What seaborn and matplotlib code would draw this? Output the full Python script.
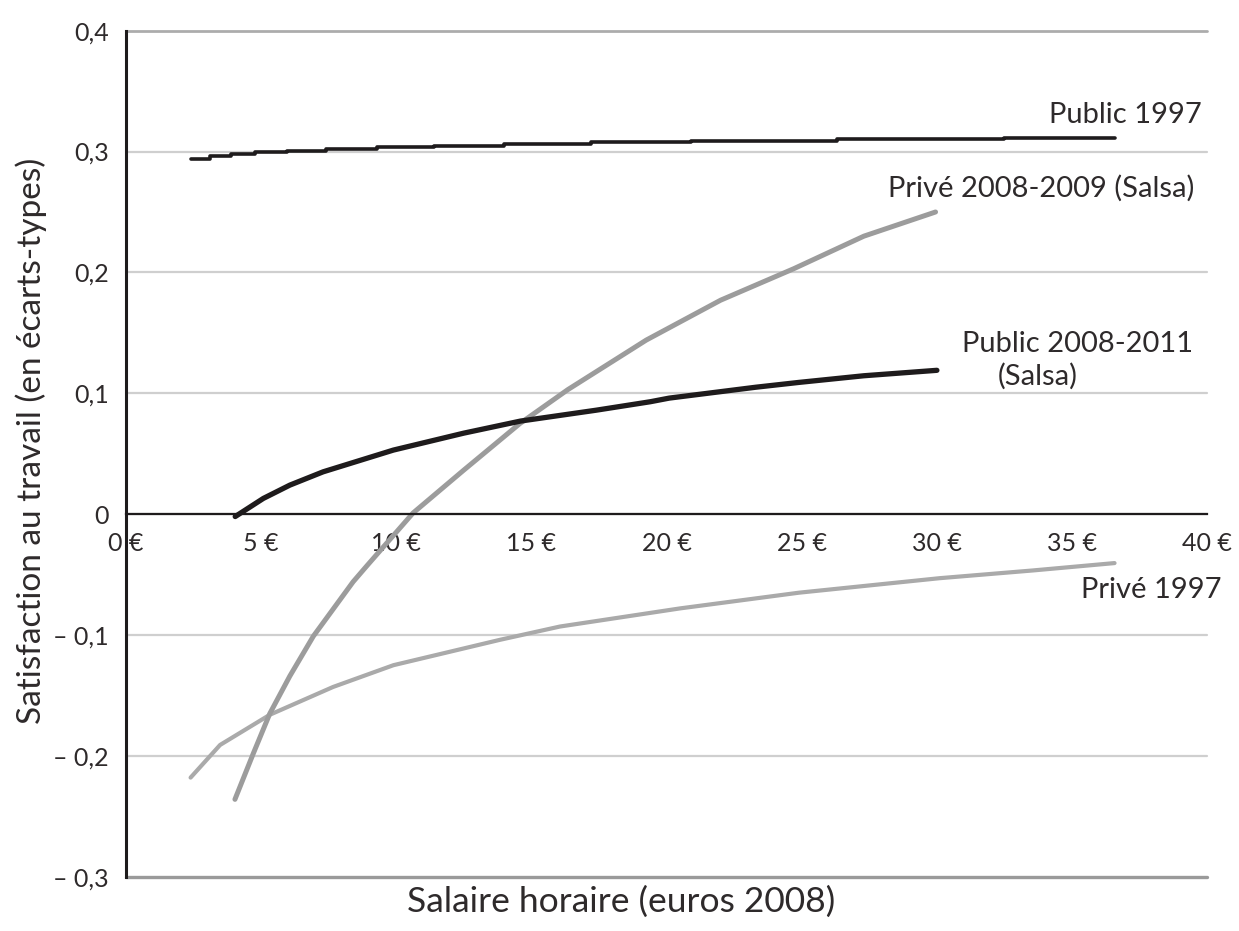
import matplotlib
matplotlib.use("Agg")
import matplotlib.pyplot as plt
import seaborn as sns

# ---- data ----
pub97_x = [2.4, 3.1, 3.9, 4.8, 5.95, 7.4, 9.3, 11.4, 14.0, 17.2, 20.9, 26.3, 32.5, 36.6]
pub97_y = [0.2938, 0.2962, 0.2978, 0.2993, 0.3006, 0.3020, 0.3035, 0.3049, 0.3063,
           0.3075, 0.3088, 0.3100, 0.3114, 0.3114]

pub08_x = [4.05, 5.09, 6.07, 7.3, 9.9, 12.5, 14.6, 17.4, 19.4, 20.1, 23.3, 24.9, 27.3, 30.0]
pub08_y = [-0.002, 0.013, 0.024, 0.035, 0.053, 0.067, 0.077, 0.086, 0.093, 0.096,
           0.105, 0.109, 0.1145, 0.119]

priv08_x = [4.04, 4.72, 5.33, 6.07, 6.94, 8.41, 8.91, 10.63, 12.48, 14.58, 16.35, 19.25,
            22.0, 24.7, 27.3, 29.95]
priv08_y = [-0.236, -0.198, -0.165, -0.134, -0.101, -0.056, -0.043, 0.001, 0.036, 0.075,
            0.103, 0.144, 0.177, 0.203, 0.230, 0.250]

priv97_x = [2.40, 3.49, 5.33, 7.67, 9.9, 13.84, 16.06, 20.5, 24.9, 30.1, 33.55, 36.57]
priv97_y = [-0.218, -0.191, -0.166, -0.143, -0.125, -0.104, -0.093, -0.078, -0.065,
            -0.053, -0.0466, -0.0405]

y_ticks = [-0.3, -0.2, -0.1, 0.0, 0.1, 0.2, 0.3, 0.4]
y_tick_labels = ["\u2013 0,3", "\u2013 0,2", "\u2013 0,1", "0", "0,1", "0,2", "0,3", "0,4"]
x_ticks = [0, 5, 10, 15, 20, 25, 30, 35, 40]
x_tick_labels = ["0 \u20ac", "5 \u20ac", "10 \u20ac", "15 \u20ac", "20 \u20ac",
                 "25 \u20ac", "30 \u20ac", "35 \u20ac", "40 \u20ac"]

labels = {
    "pub97": "Public 1997",
    "priv08": "Priv\u00e9 2008-2009 (Salsa)",
    "pub08a": "Public 2008-2011",
    "pub08b": "(Salsa)",
    "priv97": "Priv\u00e9 1997",
}
x_label = "Salaire horaire (euros 2008)"
y_label = "Satisfaction au travail (en \u00e9carts-types)"

# ---- style ----
sns.set_style("white")
plt.rcParams["font.family"] = ["Lato", "DejaVu Sans"]
plt.rcParams["font.weight"] = "normal"
TXT = "#2e2a2b"

fig = plt.figure(figsize=(12.39, 9.31), dpi=100)
ax = fig.add_axes([0.10145, 0.05832, 0.87296, 0.9087])

dark = "#1e1b1c"
sns.lineplot(x=pub97_x, y=pub97_y, ax=ax, color=dark, lw=2.6, drawstyle="steps-post")
sns.lineplot(x=priv97_x, y=priv97_y, ax=ax, color="#aaaaaa", lw=3.0)
sns.lineplot(x=priv08_x, y=priv08_y, ax=ax, color="#9c9c9c", lw=3.6)
sns.lineplot(x=pub08_x, y=pub08_y, ax=ax, color=dark, lw=3.8)

ax.set_xlim(0, 40)
ax.set_ylim(-0.3, 0.4)
ax.set_yticks(y_ticks)
ax.set_yticklabels(y_tick_labels)
ax.set_xticks(x_ticks)
ax.set_xticklabels(x_tick_labels)

for s in ["top", "right"]:
    ax.spines[s].set_visible(False)
ax.spines["left"].set_color(dark)
ax.spines["left"].set_linewidth(2.2)
ax.spines["bottom"].set_position(("data", 0))
ax.spines["bottom"].set_color(dark)
ax.spines["bottom"].set_linewidth(1.6)
ax.spines["left"].set_zorder(5)
ax.spines["bottom"].set_zorder(5)

ax.tick_params(axis="y", direction="out", length=6, width=1.6, color=dark,
               labelsize=18, labelcolor=TXT, pad=6)
ax.tick_params(axis="x", direction="out", length=6, width=1.6, color=dark,
               labelsize=18, labelcolor=TXT, pad=7)

ax.grid(axis="y", color="#cfcfcf", lw=1.6)
ax.grid(axis="x", visible=False)
gl = ax.yaxis.get_gridlines()
gl[0].set_color("#9a9a9a"); gl[0].set_linewidth(2.4)
gl[-1].set_color("#acacac"); gl[-1].set_linewidth(2.0)
for line in ax.yaxis.get_gridlines():
    line.set_clip_on(False)

fs_ann = 21
ax.text(39.8, 0.3237, labels["pub97"], ha="right", va="baseline", fontsize=fs_ann, color=TXT)
ax.text(39.53, 0.2627, labels["priv08"], ha="right", va="baseline", fontsize=fs_ann, color=TXT)
ax.text(39.46, 0.1345, labels["pub08a"], ha="right", va="baseline", fontsize=fs_ann, color=TXT)
ax.text(32.26, 0.107, labels["pub08b"], ha="left", va="baseline", fontsize=fs_ann, color=TXT)
ax.text(35.34, -0.0695, labels["priv97"], ha="left", va="baseline", fontsize=fs_ann, color=TXT)

fig.text(0.5016, 0.031, x_label, ha="center", va="center", fontsize=25.5, color=TXT)
fig.text(0.0250, 0.526, y_label, ha="center", va="center", rotation=90, fontsize=24, color=TXT)

fig.savefig("out.png", dpi=100)
